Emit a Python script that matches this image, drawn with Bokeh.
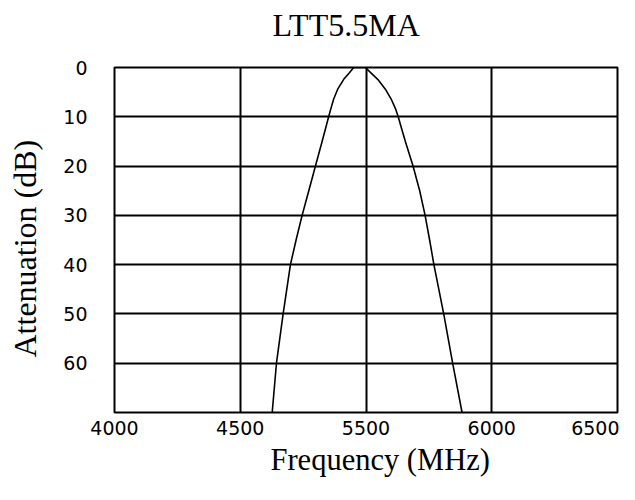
from bokeh.plotting import figure
from bokeh.models import Range1d, FixedTicker, Title
from bokeh.embed import file_html
from bokeh.resources import INLINE

# Tick labels of the frequency axis (one label per vertical grid division)
freq_tick_pos = [0, 1, 2, 3, 4]
freq_tick_labels = ["4000", "4500", "5500", "6000", "6500"]
atten_ticks = [0, 10, 20, 30, 40, 50, 60]

# Response curve: position along the frequency axis (in grid divisions) and attenuation (dB)
curve_pos = [1.254, 1.288, 1.341, 1.399, 1.444, 1.492, 1.545, 1.598, 1.651, 1.703,
             1.719, 1.743, 1.775, 1.823, 1.870, 1.902, 1.950, 1.995, 2.035, 2.093,
             2.154, 2.200, 2.237, 2.256, 2.313, 2.374, 2.427, 2.470, 2.506, 2.540,
             2.618, 2.689, 2.764]
curve_db = [70, 60, 50, 40, 35, 30, 25, 20, 15, 10,
            8.5, 6.4, 4.4, 2.4, 1.0, 0.0, 0.0, 0.0, 1.0, 2.4,
            4.4, 6.4, 8.5, 10, 15, 20, 25, 30, 35, 40,
            50, 60, 70]

title_text = "LTT5.5MA"
x_title = "Frequency (MHz)"
y_title = "Attenuation (dB)"

p = figure(width=619, height=484, output_backend="svg", toolbar_location=None,
           title_location=None,
           x_range=Range1d(0, 4), y_range=Range1d(70, 0),
           min_border_left=114, min_border_right=2, min_border_top=67, min_border_bottom=72,
           background_fill_color="white", border_fill_color="white")

p.outline_line_color = "black"
p.outline_line_width = 2
p.outline_line_alpha = 1

p.xaxis.ticker = FixedTicker(ticks=freq_tick_pos)
p.xaxis.major_label_overrides = {pos: lab for pos, lab in zip(freq_tick_pos, freq_tick_labels)}
p.yaxis.ticker = FixedTicker(ticks=atten_ticks)

for ax in (p.xaxis, p.yaxis):
    ax.axis_line_color = None
    ax.major_tick_line_color = None
    ax.minor_tick_line_color = None
    ax.major_tick_out = 0
    ax.major_tick_in = 0
    ax.major_label_text_font = "DejaVu Sans"
    ax.major_label_text_font_size = "19px"
    ax.major_label_text_color = "black"

p.xaxis.major_label_standoff = 8
p.yaxis.major_label_standoff = 27

serif = dict(text_font="Liberation Serif", text_font_style="normal", text_color="black",
             align="left", vertical_align="bottom")

# spacers keep the titles at the reference distance from the plot frame
p.add_layout(Title(text=" ", text_font_size="10px", standoff=12, text_color="white"), "above")
p.add_layout(Title(text=title_text, text_font_size="32px", offset=158, standoff=0, **serif), "above")

p.add_layout(Title(text=" ", text_font_size="10px", standoff=5, text_color="white"), "left")
p.add_layout(Title(text=y_title, text_font_size="32px", offset=55, standoff=0, **serif), "left")

p.add_layout(Title(text=x_title, text_font_size="30.5px", offset=156, standoff=6, **serif), "below")

p.xgrid.ticker = FixedTicker(ticks=[1, 2, 3])
p.ygrid.ticker = FixedTicker(ticks=[10, 20, 30, 40, 50, 60])
for g in (p.xgrid, p.ygrid):
    g.grid_line_color = "black"
    g.grid_line_width = 2
    g.grid_line_alpha = 1

p.line(curve_pos, curve_db, line_color="black", line_width=1.6)

open("out.html", "w").write(file_html(p, INLINE))
